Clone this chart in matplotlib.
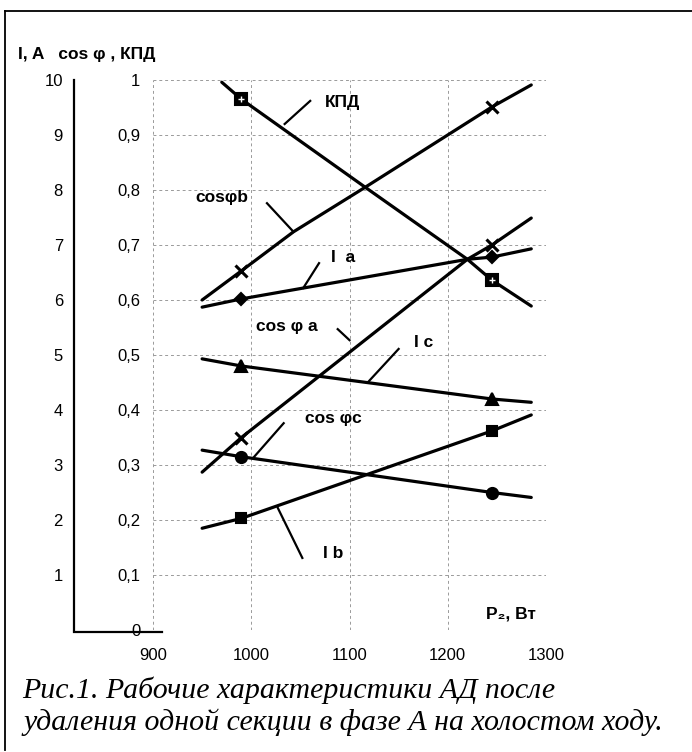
import matplotlib
matplotlib.use("Agg")
import matplotlib.pyplot as plt
from matplotlib.lines import Line2D

plt.rcParams['font.family'] = ['Liberation Sans', 'DejaVu Sans']

# ---- data (P2 in W; cos phi / efficiency in p.u.; currents in A) ----
p2_kpd = [970, 990, 1116, 1220, 1245, 1285]
kpd = [0.996, 0.965, 0.805, 0.674, 0.636, 0.589]

p2_cos_b = [950, 990, 1043, 1116, 1245, 1285]
cos_b = [0.600, 0.653, 0.724, 0.805, 0.951, 0.991]

p2_i_a = [950, 990, 1220, 1245, 1285]
i_a = [5.87, 6.02, 6.74, 6.78, 6.93]

p2_cos_a = [950, 990, 1220, 1245, 1285]
cos_a = [0.287, 0.350, 0.674, 0.700, 0.749]

p2_i_c = [950, 990, 1245, 1285]
i_c = [4.93, 4.80, 4.20, 4.14]

p2_cos_c = [950, 990, 1245, 1285]
cos_c = [0.327, 0.315, 0.250, 0.241]

p2_i_b = [950, 990, 1245, 1285]
i_b = [1.85, 2.03, 3.62, 3.91]

x_ticks = [900, 1000, 1100, 1200, 1300]
y_ticks = [0, 0.1, 0.2, 0.3, 0.4, 0.5, 0.6, 0.7, 0.8, 0.9, 1.0]
y_ticklabels = ['0', '0,1', '0,2', '0,3', '0,4', '0,5', '0,6', '0,7', '0,8', '0,9', '1']
i_ticks = [1, 2, 3, 4, 5, 6, 7, 8, 9, 10]

W, H = 692, 752
fig = plt.figure(figsize=(W / 100, H / 100), dpi=100)
ax = fig.add_axes([153 / W, 122 / H, 393 / W, 550 / H])
ax.set_xlim(900, 1300)
ax.set_ylim(0, 1)

for s in ax.spines.values():
    s.set_visible(False)
ax.set_xticks(x_ticks)
ax.set_yticks(y_ticks)
ax.set_yticklabels(y_ticklabels)
ax.tick_params(axis='both', length=0, labelsize=12)
ax.tick_params(axis='x', pad=13)
ax.tick_params(axis='y', pad=9)
ax.grid(True, color='#9a9a9a', linestyle=(0, (3, 3)), linewidth=0.7)
ax.set_axisbelow(True)

lw = 2.3
def series(x, y, marker, ms, mew=1.5, scale=1.0):
    yy = [v * scale for v in y]
    idx = [i for i, v in enumerate(x) if v in (990, 1245)]
    ax.plot(x, yy, color='black', lw=lw, marker=marker, ms=ms, mew=mew,
            mfc='black', mec='black', markevery=idx, solid_capstyle='round')
    return idx, yy

idx, yy = series(p2_kpd, kpd, 's', 9)
ax.plot([p2_kpd[i] for i in idx], [yy[i] for i in idx], ls='none', marker='+',
        ms=5, mew=1.0, color='white')
series(p2_cos_b, cos_b, 'x', 8, mew=2.2)
series(p2_i_a, i_a, 'D', 6, scale=0.1)
series(p2_cos_a, cos_a, 'x', 9, mew=2.2)
series(p2_i_c, i_c, '^', 8, scale=0.1)
series(p2_cos_c, cos_c, 'o', 8)
series(p2_i_b, i_b, 's', 7, scale=0.1)

# annotations with leader lines
labels = [
    ('КПД', 1093, 0.960, (1034, 0.920), (1060, 0.962)),
    ('cosφb', 970, 0.787, (1016, 0.776), (1043, 0.724)),
    ('I  a', 1093, 0.678, (1069, 0.667), (1053, 0.622)),
    ('cos φ a', 1036, 0.551, (1088, 0.547), (1100, 0.527)),
    ('I c', 1175, 0.522, (1150, 0.511), (1119, 0.451)),
    ('cos φc', 1084, 0.385, (1033, 0.376), (1003, 0.315)),
    ('I b', 1083, 0.140, (1052, 0.131), (1027, 0.222)),
]
for txt, tx, ty, p0, p1 in labels:
    ax.text(tx, ty, txt, ha='center', va='center', fontsize=12.5, fontweight='bold')
    ax.plot([p0[0], p1[0]], [p0[1], p1[1]], color='black', lw=1.6)

ax.text(1290, 0.029, 'P₂, Вт', ha='right', va='center', fontsize=12.5, fontweight='bold')

# secondary current axis
sec = ax.secondary_yaxis((74 - 153) / 393, functions=(lambda y: y * 10, lambda y: y / 10))
sec.set_yticks(i_ticks)
sec.tick_params(length=0, pad=8, labelsize=12)
sec.spines['left'].set_linewidth(1.6)
ax.add_line(Line2D([(74 - 153) / 393, (162 - 153) / 393], [-0.004, -0.004],
                   transform=ax.transAxes, color='black', lw=1.6, clip_on=False))

# axis title
fig.text(18 / W, 1 - 55 / H, 'I, A   cos φ , КПД', fontsize=12.5, fontweight='bold',
         va='center', ha='left')

# frame
fig.add_artist(Line2D([5 / W, 5 / W], [1 - 11 / H, 1 - 750 / H], transform=fig.transFigure,
                      color='black', lw=1.3))
fig.add_artist(Line2D([5 / W, 1.0], [1 - 11 / H, 1 - 11 / H], transform=fig.transFigure,
                      color='black', lw=1.3))

# caption
cap_font = dict(family=['Liberation Serif', 'DejaVu Serif'], style='italic', fontsize=21.5)
fig.text(22 / W, 1 - 690 / H, 'Рис.1. Рабочие характеристики АД после', va='center',
         ha='left', **cap_font)
fig.text(24 / W, 1 - 722 / H, 'удаления одной секции в фазе А на холостом ходу.',
         va='center', ha='left', **cap_font)

fig.savefig('out.png', dpi=100)
